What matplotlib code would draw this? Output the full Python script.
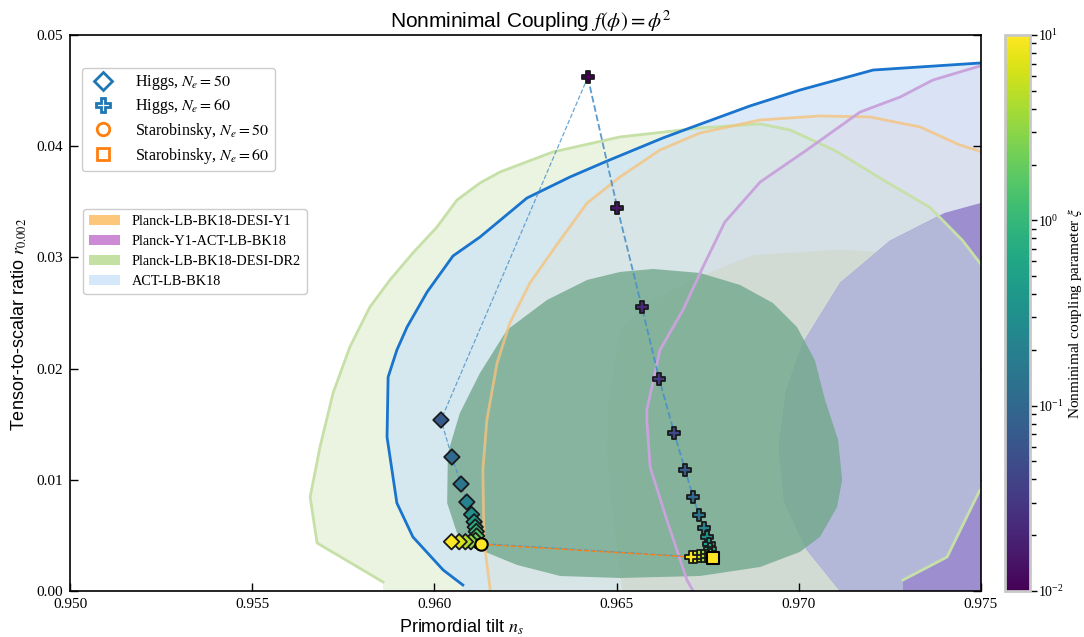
import numpy as np
import matplotlib
matplotlib.use("Agg")
import matplotlib.pyplot as plt
from matplotlib.colors import LogNorm
from matplotlib.patches import Polygon, Patch
from matplotlib.lines import Line2D
from matplotlib.cm import ScalarMappable

plt.rcParams['font.family'] = ['Liberation Serif', 'DejaVu Serif']
plt.rcParams['mathtext.fontset'] = 'stix'
SANS = ['Liberation Sans', 'DejaVu Sans']

# coupling grid (shared by both e-fold numbers)
xi = [0.01, 0.0147, 0.0215, 0.0316, 0.0464, 0.0681, 0.1, 0.147, 0.215, 0.316,
      0.464, 0.681, 1.0, 1.47, 2.15, 3.16, 4.64, 6.81, 10.0]

# Higgs-like model, N_e = 60 (all couplings)
higgs60_ns = [0.96421, 0.96502, 0.96569, 0.96617, 0.96658, 0.96688, 0.96710, 0.96726,
              0.96740, 0.96747, 0.96753, 0.96756, 0.96757, 0.96755, 0.96748, 0.96738,
              0.96726, 0.96714, 0.96704]
higgs60_r = [0.04620, 0.03447, 0.02557, 0.01904, 0.01424, 0.01088, 0.00848, 0.00683,
             0.00564, 0.00483, 0.00423, 0.00375, 0.00345, 0.00325, 0.00318, 0.00314,
             0.00312, 0.00310, 0.00309]

# Higgs-like model, N_e = 50 (couplings with r below 0.05)
higgs50_xi = xi[5:]
higgs50_ns = [0.96018, 0.96048, 0.96073, 0.96089, 0.96102, 0.96109, 0.96112, 0.96115,
              0.96116, 0.96113, 0.96100, 0.96085, 0.96068, 0.96047]
higgs50_r = [0.01538, 0.01205, 0.00962, 0.00800, 0.00688, 0.00622, 0.00575, 0.00535,
             0.00495, 0.00455, 0.00443, 0.00443, 0.00443, 0.00443]

# Starobinsky points
staro_ns = [0.96128, 0.96764]
staro_r = [0.00420, 0.00294]

# 2-sigma contour edges (ns, r)
act_ns = [0.96078, 0.96024, 0.95941, 0.95897, 0.95870, 0.95873, 0.95897, 0.95925, 0.95980,
          0.96051, 0.96125, 0.96254, 0.96372, 0.96474, 0.96627, 0.96701, 0.96866, 0.97003,
          0.97204, 0.97497, 0.97600]
act_r = [0.00054, 0.00189, 0.00486, 0.00791, 0.01385, 0.01924, 0.02167, 0.02374, 0.02689,
         0.03013, 0.03183, 0.03534, 0.03723, 0.03867, 0.04074, 0.04164, 0.04362, 0.04505,
         0.04685, 0.04748, 0.04760]

dr2_ns = [0.95859, 0.95678, 0.95659, 0.95686, 0.95722, 0.95768, 0.95823, 0.95878, 0.95941,
          0.96007, 0.96062, 0.96125, 0.96180, 0.96325, 0.96509, 0.96729, 0.96894, 0.96976,
          0.97100, 0.97230, 0.97360, 0.97450, 0.97520, 0.97600, 0.97600, 0.97497, 0.97407,
          0.97286]
dr2_r = [0.00081, 0.00432, 0.00845, 0.01295, 0.01781, 0.02194, 0.02554, 0.02797, 0.03040,
         0.03273, 0.03516, 0.03669, 0.03768, 0.03948, 0.04083, 0.04164, 0.04200, 0.04146,
         0.03960, 0.03700, 0.03450, 0.03150, 0.02850, 0.02000, 0.01000, 0.00908, 0.00306,
         0.00099]

y1_ns = [0.96153, 0.96136, 0.96133, 0.96144, 0.96172, 0.96207, 0.96262, 0.96345, 0.96419,
         0.96509, 0.96619, 0.96729, 0.96894, 0.97058, 0.97195, 0.97333, 0.97442, 0.97600]
y1_r = [0.00010, 0.00459, 0.01088, 0.01538, 0.02050, 0.02410, 0.02770, 0.03156, 0.03489,
        0.03723, 0.03966, 0.04119, 0.04236, 0.04272, 0.04263, 0.04173, 0.04011, 0.03850]

act_y1_ns = [0.96710, 0.96693, 0.96638, 0.96592, 0.96583, 0.96583, 0.96619, 0.96682, 0.96737,
             0.96797, 0.96894, 0.97022, 0.97168, 0.97278, 0.97368, 0.97497, 0.97600]
act_y1_r = [0.00000, 0.00099, 0.00638, 0.01115, 0.01538, 0.01628, 0.02167, 0.02527, 0.02914,
            0.03318, 0.03678, 0.03966, 0.04307, 0.04442, 0.04595, 0.04721, 0.04740]

# 1-sigma regions
y1_core_ns = [0.96515, 0.96505, 0.96485, 0.96474, 0.96478, 0.96509, 0.96600, 0.96721,
              0.96874, 0.97113, 0.97350, 0.97600, 0.97600]
y1_core_r = [0.0000, 0.0030, 0.0080, 0.0127, 0.0172, 0.0235, 0.0262, 0.0282,
             0.0302, 0.0307, 0.0302, 0.0295, 0.0000]

act_y1_core_ns = [0.97113, 0.97022, 0.96960, 0.96945, 0.96965, 0.97011, 0.97113, 0.97250,
                  0.97400, 0.97600, 0.97600]
act_y1_core_r = [0.0000, 0.0037, 0.0080, 0.0130, 0.0180, 0.0223, 0.0277, 0.0315,
                 0.0340, 0.0358, 0.0000]

joint_core_ns = [0.96035, 0.96037, 0.96070, 0.96125, 0.96199, 0.96309, 0.96419, 0.96509,
                 0.96600, 0.96729, 0.96839, 0.96929, 0.96995, 0.97044, 0.97072, 0.97108,
                 0.97119, 0.97105, 0.97058, 0.97003, 0.96894, 0.96729, 0.96509, 0.96345,
                 0.96227, 0.96106, 0.96062]
joint_core_r = [0.00791, 0.01241, 0.01601, 0.01960, 0.02347, 0.02617, 0.02797, 0.02869,
                0.02896, 0.02860, 0.02752, 0.02590, 0.02374, 0.02077, 0.01718, 0.01358,
                0.00998, 0.00755, 0.00486, 0.00351, 0.00216, 0.00135, 0.00117, 0.00135,
                0.00234, 0.00396, 0.00522]

labels_data = ['Planck-LB-BK18-DESI-Y1', 'Planck-Y1-ACT-LB-BK18',
               'Planck-LB-BK18-DESI-DR2', 'ACT-LB-BK18']
colors_data = ['#fdc77b', '#cd8bd6', '#c4e0a2', '#d4e8fa']


def region(ns, r, floor=True):
    pts = list(zip(ns, r))
    if floor:
        pts = pts + [(ns[-1], -0.001), (ns[0], -0.001)]
    return np.array(pts)


fig = plt.figure(figsize=(10.84, 6.37), dpi=100)
ax = fig.add_axes([70 / 1084, 46 / 637, 911 / 1084, 556 / 637])

# filled regions
g2 = Polygon(region(dr2_ns, dr2_r), closed=True, fc='#ebf4e1', ec='none', zorder=1.0)
ax.add_patch(g2)
b2 = Polygon(region(act_ns, act_r), closed=True, fc='#dbe9f8', ec='none', zorder=1.1)
ax.add_patch(b2)
gb = Polygon(region(dr2_ns, dr2_r), closed=True, fc='#d5e8ef', ec='none', zorder=1.2)
ax.add_patch(gb)
gb.set_clip_path(b2)
ax.add_patch(Polygon(region(y1_ns, y1_r), closed=True, fc='#f0c890', alpha=0.08,
                     ec='none', zorder=1.3))
ax.add_patch(Polygon(region(act_y1_ns, act_y1_r), closed=True, fc='#c9a0dc', alpha=0.08,
                     ec='none', zorder=1.4))
ax.add_patch(Polygon(region(y1_core_ns, y1_core_r, False), closed=True, fc='#d1dbd4',
                     ec='none', zorder=1.5))
ax.add_patch(Polygon(region(act_y1_core_ns, act_y1_core_r, False), closed=True,
                     fc='#9d8fcf', ec='none', zorder=1.6))
p1g = Polygon(region(act_y1_core_ns, act_y1_core_r, False), closed=True, fc='#b3b8d9',
              ec='none', zorder=1.7)
ax.add_patch(p1g)
g2_clip = Polygon(region(dr2_ns, dr2_r), closed=True, fc='none', ec='none',
                  transform=ax.transData)
p1g.set_clip_path(g2_clip)
ax.add_patch(Polygon(region(joint_core_ns, joint_core_r, False), closed=True,
                     fc='#72a88c', alpha=0.8, ec='none', zorder=1.8))

# contour edges
ax.plot(dr2_ns, dr2_r, color='#c6e0a8', lw=2, zorder=2.0)
ax.plot(y1_ns, y1_r, color='#f5c37f', lw=2, alpha=0.8, zorder=2.1)
ax.plot(act_y1_ns, act_y1_r, color='#c9a3dc', lw=2, zorder=2.2)
ax.plot(act_ns, act_r, color='#1874cd', lw=2, zorder=2.3)

# model tracks
loop_ns = [higgs60_ns[0]] + higgs50_ns + [higgs60_ns[-1]]
loop_r = [higgs60_r[0]] + higgs50_r + [higgs60_r[-1]]
ax.plot(loop_ns, loop_r, ls='--', color='#4a90c8', lw=0.9, alpha=0.8, zorder=3)
ax.plot(higgs60_ns, higgs60_r, ls='--', color='#4a90c8', lw=1.3, alpha=0.9, zorder=3)
ax.plot(staro_ns, staro_r, ls='--', color='#ff7f0e', lw=1.0, zorder=3.1)

norm = LogNorm(1e-2, 1e1)
cmap = plt.get_cmap('viridis')
ax.scatter(higgs50_ns, higgs50_r, c=higgs50_xi, cmap=cmap, norm=norm, marker='D', s=62,
           edgecolors='#1a1a1a', linewidths=1.3, zorder=5)
ax.scatter(higgs60_ns, higgs60_r, c=xi, cmap=cmap, norm=norm, marker='P', s=75,
           edgecolors='#1a1a1a', linewidths=1.3, zorder=5)
ax.scatter(staro_ns[:1], staro_r[:1], color=cmap(1.0), marker='o', s=80,
           edgecolors='black', linewidths=1.5, zorder=6)
ax.scatter(staro_ns[1:], staro_r[1:], color=cmap(1.0), marker='s', s=85,
           edgecolors='black', linewidths=1.5, zorder=6)

ax.set_xlim(0.950, 0.975)
ax.set_ylim(0.0, 0.05)
ax.set_xticks(np.arange(0.950, 0.9751, 0.005))
ax.set_yticks(np.arange(0.0, 0.0501, 0.01))
ax.xaxis.set_major_formatter(plt.FormatStrFormatter('%.3f'))
ax.yaxis.set_major_formatter(plt.FormatStrFormatter('%.2f'))
ax.tick_params(direction='in', length=6, width=1, labelsize=11, right=True, pad=5)
for sp in ax.spines.values():
    sp.set_linewidth(1.2)

ax.set_xlabel(r'Primordial tilt $n_s$', fontsize=13, family=SANS, x=0.43, labelpad=5)
ax.set_ylabel(r'Tensor-to-scalar ratio $r_{0.002}$', fontsize=13, family=SANS, y=0.48,
              labelpad=5)
ax.set_title(r'Nonminimal Coupling $f(\phi) = \phi^2$', fontsize=15, family=SANS,
             x=0.506, pad=5)

# legends
model_handles = [
    Line2D([], [], ls='none', marker='D', ms=9, mfc='none', mec='#1f77b4', mew=2),
    Line2D([], [], ls='none', marker='P', ms=10, mfc='none', mec='#1f77b4', mew=2),
    Line2D([], [], ls='none', marker='o', ms=9, mfc='none', mec='#ff7f0e', mew=2),
    Line2D([], [], ls='none', marker='s', ms=9, mfc='none', mec='#ff7f0e', mew=2),
]
model_labels = [r'Higgs, $N_e = 50$', r'Higgs, $N_e = 60$',
                r'Starobinsky, $N_e = 50$', r'Starobinsky, $N_e = 60$']
leg1 = ax.legend(model_handles, model_labels, loc='upper left',
                 bbox_to_anchor=(0.013, 0.941), borderaxespad=0, fontsize=11.5,
                 frameon=True, fancybox=True, edgecolor='#cccccc', framealpha=1,
                 labelspacing=0.3, handletextpad=1.0, borderpad=0.35)
leg1.set_zorder(10)
ax.add_artist(leg1)

data_handles = [Patch(facecolor=c, edgecolor='none') for c in colors_data]
leg2 = ax.legend(data_handles, labels_data, loc='upper left',
                 bbox_to_anchor=(0.0143, 0.687), borderaxespad=0, fontsize=10.3,
                 frameon=True, fancybox=True, edgecolor='#cccccc', framealpha=1,
                 handlelength=2.2, labelspacing=0.5)
leg2.set_zorder(10)

# colour bar for the coupling
cax = fig.add_axes([1005 / 1084, 46 / 637, 25 / 1084, 556 / 637])
sm = ScalarMappable(norm=norm, cmap=cmap)
cb = fig.colorbar(sm, cax=cax)
cb.outline.set_edgecolor('#c8c8c8')
cb.outline.set_linewidth(2)
cb.ax.tick_params(which='both', direction='out', labelsize=10, width=1, pad=1)
cb.ax.tick_params(which='major', length=5)
cb.ax.tick_params(which='minor', length=4)
cb.set_label(r'Nonminimal coupling parameter $\xi$', fontsize=11)
cb.ax.yaxis.set_label_coords(2.45, 0.5)

fig.savefig('out.png', dpi=100)
